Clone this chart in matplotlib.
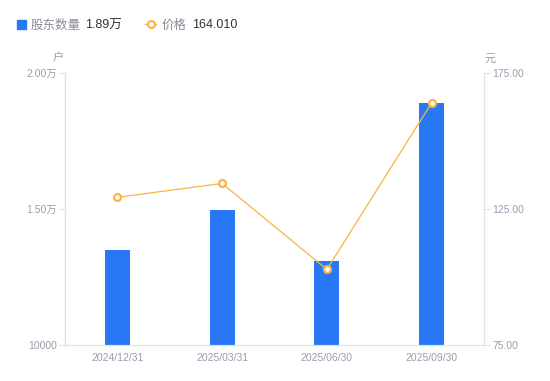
import matplotlib
matplotlib.use("Agg")
import matplotlib.pyplot as plt
from matplotlib.lines import Line2D
from matplotlib.patches import Rectangle

plt.rcParams['font.family'] = ['Liberation Sans', 'Noto Sans CJK SC', 'DejaVu Sans']

# data
dates = ["2024/12/31", "2025/03/31", "2025/06/30", "2025/09/30"]
holders = [13490, 14950, 13080, 18900]
prices = [129.3, 134.4, 102.8, 164.01]

left_ticks = [10000, 15000, 20000]
left_labels = ["10000", "1.50万", "2.00万"]
right_ticks = [75, 125, 175]
right_labels = ["75.00", "125.00", "175.00"]

bar_color = "#2878F6"
line_color = "#F9B443"
tick_color = "#9A9CAD"
axis_color = "#E2E2E6"

fig = plt.figure(figsize=(5.5, 3.81), dpi=100)
ax = fig.add_axes([65 / 550, 36 / 381, 419 / 550, 272 / 381])
ax2 = ax.twinx()

x = list(range(len(dates)))
ax.bar(x, holders, width=0.24, color=bar_color, zorder=2)
ax.set_xlim(-0.5, 3.5)
ax.set_ylim(10000, 20000)
ax.set_yticks(left_ticks)
ax.set_yticklabels(left_labels)
ax.set_xticks(x)
ax.set_xticklabels(dates)

ax2.plot(x, prices, color=line_color, lw=0.9, marker="o", ms=5,
         mfc="white", mec=line_color, mew=1.6, zorder=3)
ax2.set_ylim(75, 175)
ax2.set_yticks(right_ticks)
ax2.set_yticklabels(right_labels)

for a in (ax, ax2):
    for s in a.spines.values():
        s.set_color(axis_color)
        s.set_linewidth(0.8)
    a.spines["top"].set_visible(False)
    a.tick_params(colors=axis_color, labelcolor=tick_color, labelsize=7.5, length=4, width=0.8)
ax.tick_params(axis="x", length=0, pad=6)
ax.tick_params(axis="y", pad=2)
ax2.tick_params(axis="y", pad=2)

# axis units
fig.text(58 / 550, 1 - 58.5 / 381, "户", fontsize=8, color=tick_color, ha="center", va="center")
fig.text(490 / 550, 1 - 58.5 / 381, "元", fontsize=8, color=tick_color, ha="center", va="center")

# legend drawn by hand
ly = 1 - 24 / 381
ty = 1 - 25.5 / 381
fig.patches.append(Rectangle((17 / 550, 1 - 28.5 / 381), 9 / 550, 9 / 381,
                             transform=fig.transFigure, color=bar_color, figure=fig))
fig.text(31 / 550, ty, "股东数量", fontsize=9, color="#8A8C99", va="center")
fig.text(85 / 550, ty, "1.89万", fontsize=9, color="#333333", va="center")
fig.lines.append(Line2D([145 / 550, 156 / 550], [ly, ly], transform=fig.transFigure,
                        color=line_color, lw=1, figure=fig))
fig.lines.append(Line2D([150.5 / 550], [ly], transform=fig.transFigure, color=line_color,
                        marker="o", ms=5, mfc="white", mec=line_color, mew=1.5, figure=fig))
fig.text(162 / 550, ty, "价格", fontsize=9, color="#8A8C99", va="center")
fig.text(192 / 550, ty, "164.010", fontsize=9, color="#333333", va="center")

fig.savefig("out.png", dpi=100)
